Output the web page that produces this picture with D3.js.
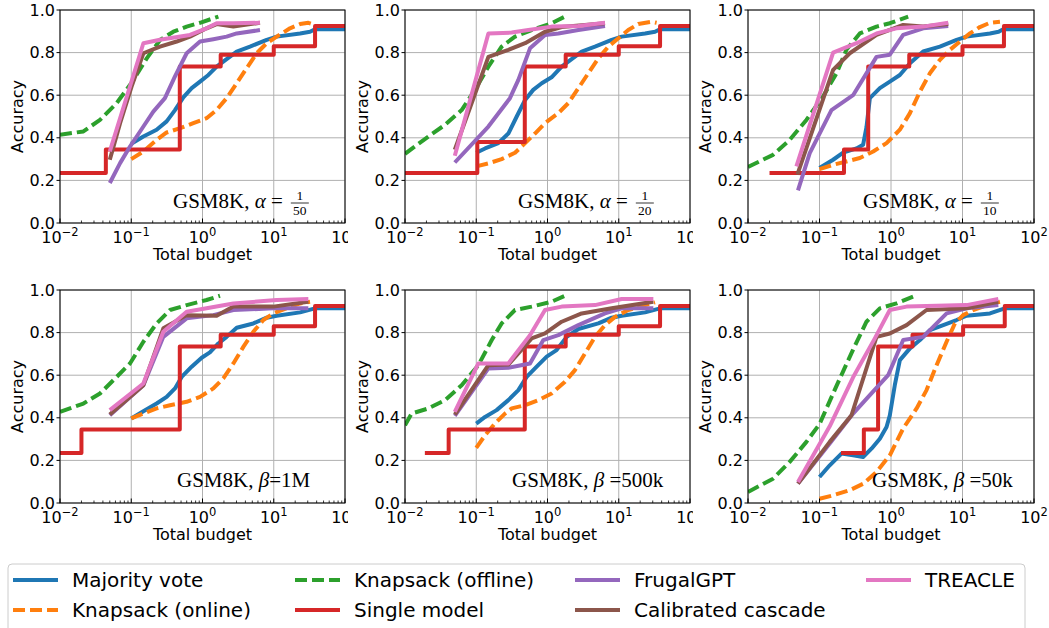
<!DOCTYPE html>
<html><head><meta charset="utf-8">
<script src="https://cdn.jsdelivr.net/npm/d3@7"></script>
<style>body{margin:0;background:#fff}svg{display:block}text{white-space:pre}</style>
</head><body><svg id="c" width="1049" height="628"></svg>
<script>
// ---------- tick labels ----------
const xTickVals=[0.01,0.1,1,10,100];
const xTickExp=["−2","−1","0","1","2"];
const yTickVals=[0,0.2,0.4,0.6,0.8,1.0];

// ---------- series names / colours ----------
const seriesNames=["Majority vote","Knapsack (online)","Knapsack (offline)","Single model","FrugalGPT","Calibrated cascade","TREACLE"];
const seriesColors=["#1f77b4","#ff7f0e","#2ca02c","#d62728","#9467bd","#8c564b","#e377c2"];
const seriesDashed=[false,true,true,false,false,false,false];

// ---------- Panel 1: GSM8K, alpha = 1/50 ----------
const mv1=[[0.1,.372],[0.148,.406],[0.227,.438],[0.314,.477],[0.411,.53],[0.538,.59],[0.705,.633],[0.923,.664],[1.21,.695],[1.58,.734],[2.18,.769],[3.02,.805],[4.64,.828],[7.96,.86],[11,.875],[23.4,.89],[32.3,.898],[37.9,.91],[100,.91]];
const ko1=[[0.1,.3],[0.148,.336],[0.227,.39],[0.314,.425],[0.485,.445],[0.743,.469],[1.14,.492],[1.58,.531],[2.18,.586],[3.02,.656],[4.17,.727],[5.76,.797],[7.96,.844],[11,.875],[16.9,.914],[23.4,.934],[30.6,.94],[34,.935]];
const kf1=[[0.01,.414],[0.0213,.43],[0.0364,.484],[0.0624,.563],[0.1,.656],[0.165,.773],[0.253,.859],[0.39,.898],[0.599,.922],[0.923,.94],[1.67,.969]];
const sm1=[[0.01,.235],[0.044,.345],[0.48,.735],[1.8,.79],[10,.83],[38,.925],[100,.925]];
const fg1=[[0.05,.188],[0.0697,.281],[0.096,.359],[0.148,.453],[0.204,.523],[0.297,.586],[0.411,.688],[0.599,.797],[0.923,.852],[1.42,.863],[2.18,.875],[3.02,.89],[6.41,.906]];
const cc1=[[0.05,.297],[0.0697,.469],[0.101,.64],[0.148,.797],[0.253,.828],[0.434,.852],[0.667,.875],[1.14,.914],[1.58,.934],[2.71,.922],[6.41,.94]];
const tr1=[[0.05,.336],[0.148,.844],[0.253,.86],[0.667,.883],[1.14,.914],[1.58,.938],[2.71,.938],[6.41,.94]];

// ---------- Panel 2: GSM8K, alpha = 1/20 ----------
const mv2=[[0.1,.33],[0.133,.35],[0.204,.375],[0.282,.42],[0.37,.5],[0.485,.578],[0.63,.625],[0.83,.656],[1.14,.684],[1.58,.734],[2.18,.769],[3.02,.805],[4.64,.828],[7.96,.86],[11,.875],[23.4,.89],[32.3,.898],[37.9,.91],[100,.91]];
const ko2=[[0.1,.266],[0.148,.28],[0.227,.3],[0.35,.33],[0.485,.375],[0.667,.42],[0.923,.469],[1.42,.516],[1.96,.563],[2.71,.633],[3.74,.703],[5.17,.773],[7.14,.828],[9.86,.867],[13.6,.906],[18.8,.934],[28.9,.945],[34,.94]];
const kf2=[[0.01,.325],[0.0213,.406],[0.0364,.461],[0.0624,.53],[0.096,.625],[0.148,.734],[0.227,.828],[0.35,.875],[0.599,.906],[1.14,.938],[1.76,.969]];
const sm2=[[0.01,.235],[0.1035,.38],[0.48,.735],[1.8,.79],[10,.83],[38,.925],[100,.925]];
const fg2=[[0.05,.284],[0.148,.453],[0.297,.586],[0.39,.672],[0.568,.82],[0.923,.883],[1.42,.89],[2.71,.906],[6.41,.925]];
const cc2=[[0.05,.344],[0.148,.78],[0.282,.813],[0.485,.844],[0.923,.898],[1.58,.92],[6.41,.938]];
const tr2=[[0.05,.316],[0.148,.89],[0.314,.894],[0.538,.906],[1.14,.922],[2.71,.925],[6.41,.94]];

// ---------- Panel 3: GSM8K, alpha = 1/10 ----------
const mv3=[[0.1,.258],[0.155,.297],[0.214,.33],[0.329,.35],[0.407,.367],[0.454,.45],[0.506,.586],[0.698,.633],[0.963,.664],[1.33,.695],[1.84,.75],[2.82,.805],[4.83,.828],[8.26,.86],[11.4,.875],[24.2,.89],[32,.898],[37.2,.91],[100,.91]];
const ko3=[[0.1,.253],[0.155,.273],[0.238,.289],[0.366,.305],[0.563,.336],[0.866,.375],[1.33,.438],[1.84,.516],[2.54,.617],[3.5,.703],[4.83,.766],[6.67,.813],[9.2,.852],[12.7,.89],[17.5,.92],[24.2,.94],[33.4,.945]];
const kf3=[[0.01,.263],[0.0224,.32],[0.0383,.39],[0.0656,.484],[0.112,.594],[0.173,.703],[0.238,.813],[0.366,.89],[0.627,.922],[0.963,.938],[1.74,.969]];
const sm3=[[0.02,.235],[0.22,.345],[0.48,.735],[1.8,.79],[10,.83],[38,.925],[100,.925]];
const fg3=[[0.05,.153],[0.073,.328],[0.147,.53],[0.295,.6],[0.627,.78],[0.963,.79],[1.48,.883],[2.82,.914],[6.32,.925]];
const cc3=[[0.049,.227],[0.155,.719],[0.265,.797],[0.627,.883],[1.48,.93],[2.82,.922],[6.32,.934]];
const tr3=[[0.0475,.266],[0.155,.8],[0.329,.844],[0.627,.89],[1.19,.914],[2.82,.922],[6.32,.94]];

// ---------- Panel 4: GSM8K, beta = 1M ----------
const mv4=[[0.1,.397],[0.148,.431],[0.227,.467],[0.314,.498],[0.411,.538],[0.51,.592],[0.705,.64],[0.974,.682],[1.27,.707],[1.67,.749],[2.18,.78],[3.02,.823],[5.17,.843],[7.96,.87],[11,.879],[23.4,.895],[37.9,.914],[100,.914]];
const ko4=[[0.1,.397],[0.148,.42],[0.227,.444],[0.35,.459],[0.599,.475],[0.923,.498],[1.42,.538],[1.96,.585],[2.71,.655],[3.74,.733],[5.17,.804],[7.14,.859],[9.86,.89],[15.2,.914],[23.4,.937],[32.3,.945]];
const kf4=[[0.01,.428],[0.0213,.467],[0.0364,.514],[0.0624,.592],[0.096,.655],[0.148,.757],[0.227,.843],[0.35,.906],[0.599,.929],[1.14,.953],[1.76,.973]];
const sm4=[[0.01,.235],[0.02,.345],[0.48,.735],[1.8,.79],[10,.83],[38,.925],[100,.925]];
const fg4=[[0.05,.412],[0.148,.553],[0.282,.78],[0.599,.867],[1.42,.882],[2.71,.906],[9.86,.914],[30.6,.914]];
const cc4=[[0.05,.415],[0.148,.553],[0.282,.82],[0.599,.882],[1.58,.879],[2.71,.922],[9.86,.922],[30.6,.945]];
const tr4=[[0.05,.436],[0.148,.561],[0.282,.804],[0.599,.898],[1.14,.914],[2.71,.937],[11,.953],[30.6,.958]];

// ---------- Panel 5: GSM8K, beta = 500k ----------
const mv5=[[0.1,.373],[0.133,.404],[0.193,.436],[0.282,.483],[0.39,.53],[0.51,.592],[0.705,.64],[0.974,.687],[1.34,.718],[1.86,.78],[2.71,.817],[5.17,.843],[7.96,.87],[11,.879],[23.4,.895],[37.9,.914],[100,.914]];
const ko5=[[0.1,.259],[0.133,.318],[0.183,.373],[0.253,.42],[0.314,.444],[0.485,.459],[0.743,.483],[1.14,.514],[1.76,.569],[2.43,.624],[3.36,.702],[4.64,.78],[6.41,.835],[8.86,.874],[13.6,.906],[23.4,.929],[32.3,.942]];
const kf5=[[0.01,.365],[0.0124,.42],[0.0213,.444],[0.0364,.483],[0.0624,.553],[0.107,.647],[0.165,.765],[0.227,.843],[0.35,.906],[0.599,.922],[1.14,.945],[1.76,.973]];
const sm5=[[0.019,.235],[0.041,.345],[0.48,.735],[1.8,.79],[10,.83],[38,.925],[100,.925]];
const fg5=[[0.05,.409],[0.148,.632],[0.282,.635],[0.568,.655],[0.874,.765],[1.42,.788],[2.71,.835],[6.41,.89],[11,.914],[30.6,.914]];
const cc5=[[0.05,.415],[0.148,.647],[0.282,.65],[0.599,.773],[0.923,.796],[1.58,.851],[3.02,.89],[7.96,.914],[30.6,.945]];
const tr5=[[0.05,.428],[0.107,.655],[0.282,.655],[0.568,.788],[0.923,.906],[1.58,.922],[4.64,.929],[11,.958],[30.6,.958]];

// ---------- Panel 6: GSM8K, beta = 50k ----------
const mv6=[[0.1,.122],[0.139,.177],[0.203,.232],[0.295,.224],[0.407,.216],[0.533,.255],[0.698,.302],[0.866,.357],[0.963,.412],[1.13,.553],[1.33,.671],[1.84,.726],[2.54,.765],[3.5,.812],[5.38,.835],[8.26,.859],[11.4,.879],[24.2,.89],[39,.914],[100,.914]];
const ko6=[[0.1,.02],[0.155,.036],[0.265,.06],[0.407,.09],[0.627,.146],[0.963,.224],[1.48,.35],[2.28,.444],[3.14,.53],[4.34,.647],[5.99,.757],[7.83,.843],[10.2,.882],[14.1,.906],[24.2,.933],[33.4,.945]];
const kf6=[[0.01,.052],[0.0224,.114],[0.0383,.193],[0.0656,.287],[0.1,.37],[0.173,.55],[0.295,.72],[0.454,.851],[0.698,.914],[1.19,.937],[2.04,.969]];
const sm6=[[0.2,.235],[0.417,.345],[0.66,.735],[2.0,.79],[10.2,.83],[39,.925],[100,.925]];
const fg6=[[0.05,.091],[0.139,.279],[0.295,.42],[0.506,.506],[0.912,.6],[1.48,.765],[2.82,.78],[6.0,.89],[11.4,.914],[31.7,.929]];
const cc6=[[0.05,.091],[0.139,.287],[0.28,.412],[0.627,.78],[0.963,.796],[1.65,.835],[3.14,.906],[11.4,.914],[31.7,.945]];
const tr6=[[0.05,.099],[0.139,.36],[0.295,.59],[0.594,.773],[0.963,.906],[1.65,.922],[11.4,.929],[31.7,.958]];

// ---------- panel titles ----------
const panelLabels=[
  {pre:"GSM8K, ",sym:"α",post:" = ",num:"1",den:"50"},
  {pre:"GSM8K, ",sym:"α",post:" = ",num:"1",den:"20"},
  {pre:"GSM8K, ",sym:"α",post:" = ",num:"1",den:"10"},
  {pre:"GSM8K, ",sym:"β",post:"=1M"},
  {pre:"GSM8K, ",sym:"β",post:" =500k"},
  {pre:"GSM8K, ",sym:"β",post:" =50k"}
];
const panelData=[
  [mv1,ko1,kf1,sm1,fg1,cc1,tr1],
  [mv2,ko2,kf2,sm2,fg2,cc2,tr2],
  [mv3,ko3,kf3,sm3,fg3,cc3,tr3],
  [mv4,ko4,kf4,sm4,fg4,cc4,tr4],
  [mv5,ko5,kf5,sm5,fg5,cc5,tr5],
  [mv6,ko6,kf6,sm6,fg6,cc6,tr6]
];

// ---------- layout ----------
const svg=d3.select("#c");
const colX=[[60,345],[405,690],[748,1034]];
const rowY=[[10,223],[290,503]];
const labelStart=[113,113,115,117,107,124];
const SANS="DejaVu Sans, sans-serif";
const SERIF="Liberation Serif, Times New Roman, serif";

panelData.forEach((series,i)=>{
  const c=i%3,r=Math.floor(i/3);
  const [x0,x1]=colX[c],[y0,y1]=rowY[r];
  const x=d3.scaleLog().domain([0.01,100]).range([x0,x1]);
  const y=d3.scaleLinear().domain([0,1]).range([y1,y0]);
  const g=svg.append("g");
  const cid="clip"+i;
  svg.append("clipPath").attr("id",cid).append("rect").attr("x",x0).attr("y",y0).attr("width",x1-x0).attr("height",y1-y0);
  // grid
  g.selectAll(".gx").data(xTickVals).enter().append("line")
    .attr("x1",d=>x(d)).attr("x2",d=>x(d)).attr("y1",y0).attr("y2",y1)
    .attr("stroke","#b0b0b0").attr("stroke-width",1);
  g.selectAll(".gy").data(yTickVals).enter().append("line")
    .attr("x1",x0).attr("x2",x1).attr("y1",d=>y(d)).attr("y2",d=>y(d))
    .attr("stroke","#b0b0b0").attr("stroke-width",1);
  // lines
  const lg=g.append("g").attr("clip-path",`url(#${cid})`);
  series.forEach((data,k)=>{
    const line=d3.line().x(d=>x(d[0])).y(d=>y(d[1]))
      .curve(k===3?d3.curveStepAfter:d3.curveLinear);
    lg.append("path").attr("d",line(data)).attr("fill","none")
      .attr("stroke",seriesColors[k]).attr("stroke-width",4)
      .attr("stroke-linejoin","round")
      .attr("stroke-dasharray",seriesDashed[k]?"12,5":null);
  });
  // spines
  g.append("rect").attr("x",x0).attr("y",y0).attr("width",x1-x0).attr("height",y1-y0)
    .attr("fill","none").attr("stroke","#000").attr("stroke-width",1);
  // x ticks (inward) major + minor
  const minor=[];
  [0.01,0.1,1,10].forEach(b=>{for(let m=2;m<=9;m++)minor.push(b*m);});
  g.selectAll(".mn").data(minor).enter().append("line")
    .attr("x1",d=>x(d)).attr("x2",d=>x(d)).attr("y1",y1).attr("y2",y1-2.5)
    .attr("stroke","#000").attr("stroke-width",0.8);
  g.selectAll(".mj").data(xTickVals).enter().append("line")
    .attr("x1",d=>x(d)).attr("x2",d=>x(d)).attr("y1",y1).attr("y2",y1-4.5)
    .attr("stroke","#000").attr("stroke-width",1);
  // y ticks (outward)
  g.selectAll(".yt").data(yTickVals).enter().append("line")
    .attr("x1",x0).attr("x2",x0-3.5).attr("y1",d=>y(d)).attr("y2",d=>y(d))
    .attr("stroke","#000").attr("stroke-width",1);
  g.selectAll(".yl").data(yTickVals).enter().append("text")
    .attr("x",x0-5).attr("y",d=>y(d)).attr("text-anchor","end").attr("dominant-baseline","central")
    .attr("font-family",SANS).attr("font-size",16).text(d=>d3.format(".1f")(d));
  // x tick labels
  const tg=g.append("g");
  if(c<2){
    const lid="lclip"+i;
    svg.append("clipPath").attr("id",lid).append("rect").attr("x",x0-40).attr("y",y1).attr("width",x1-x0+43).attr("height",40);
    tg.attr("clip-path",`url(#${lid})`);
  }
  xTickVals.forEach((v,j)=>{
    const t=tg.append("text").attr("x",x(v)).attr("y",y1+20).attr("text-anchor","middle")
      .attr("font-family",SANS).attr("font-size",16);
    t.append("tspan").text("10");
    t.append("tspan").attr("dy",-7).attr("font-size",11.5).text(xTickExp[j]);
  });
  // axis labels
  g.append("text").attr("x",(x0+x1)/2).attr("y",y1+37).attr("text-anchor","middle")
    .attr("font-family",SANS).attr("font-size",16).text("Total budget");
  g.append("text").attr("transform",`translate(${x0-43},${(y0+y1)/2}) rotate(-90)`)
    .attr("text-anchor","middle").attr("dominant-baseline","central")
    .attr("font-family",SANS).attr("font-size",16).text("Accuracy");
  // annotation
  const L=panelLabels[i];
  const base=r===0?y1-15:y1-16;
  const t=g.append("text").attr("x",x0+labelStart[i]).attr("y",base)
    .attr("font-family",SERIF).attr("font-size",21).attr("fill","#000");
  t.append("tspan").text(L.pre);
  t.append("tspan").attr("font-style","italic").text(L.sym);
  t.append("tspan").text(L.post.replace(/ $/,""));
  if(L.num){
    const bb=t.node().getBBox();
    const fx=bb.x+bb.width+8, fw=18;
    g.append("text").attr("x",fx+fw/2).attr("y",base-8).attr("text-anchor","middle")
      .attr("font-family",SERIF).attr("font-size",13.5).text(L.num);
    g.append("line").attr("x1",fx).attr("x2",fx+fw).attr("y1",base-5).attr("y2",base-5)
      .attr("stroke","#000").attr("stroke-width",0.8);
    g.append("text").attr("x",fx+fw/2).attr("y",base+7).attr("text-anchor","middle")
      .attr("font-family",SERIF).attr("font-size",13.5).text(L.den);
  }
});

// ---------- legend ----------
const legendPos=[[13,580],[13,610],[295,580],[295,610],[575,580],[575,610],[866,580]];
const lgd=svg.append("g");
lgd.append("rect").attr("x",8).attr("y",564).attr("width",1017).attr("height",72).attr("rx",4)
  .attr("fill","#fff").attr("stroke","#cccccc").attr("stroke-width",1);
seriesNames.forEach((n,k)=>{
  const [lx,ly]=legendPos[k];
  lgd.append("line").attr("x1",lx).attr("x2",lx+45).attr("y1",ly).attr("y2",ly)
    .attr("stroke",seriesColors[k]).attr("stroke-width",4)
    .attr("stroke-dasharray",seriesDashed[k]?"12,5":null);
  lgd.append("text").attr("x",lx+59).attr("y",ly).attr("dominant-baseline","central")
    .attr("font-family",SANS).attr("font-size",20).text(n);
});
</script></body></html>
